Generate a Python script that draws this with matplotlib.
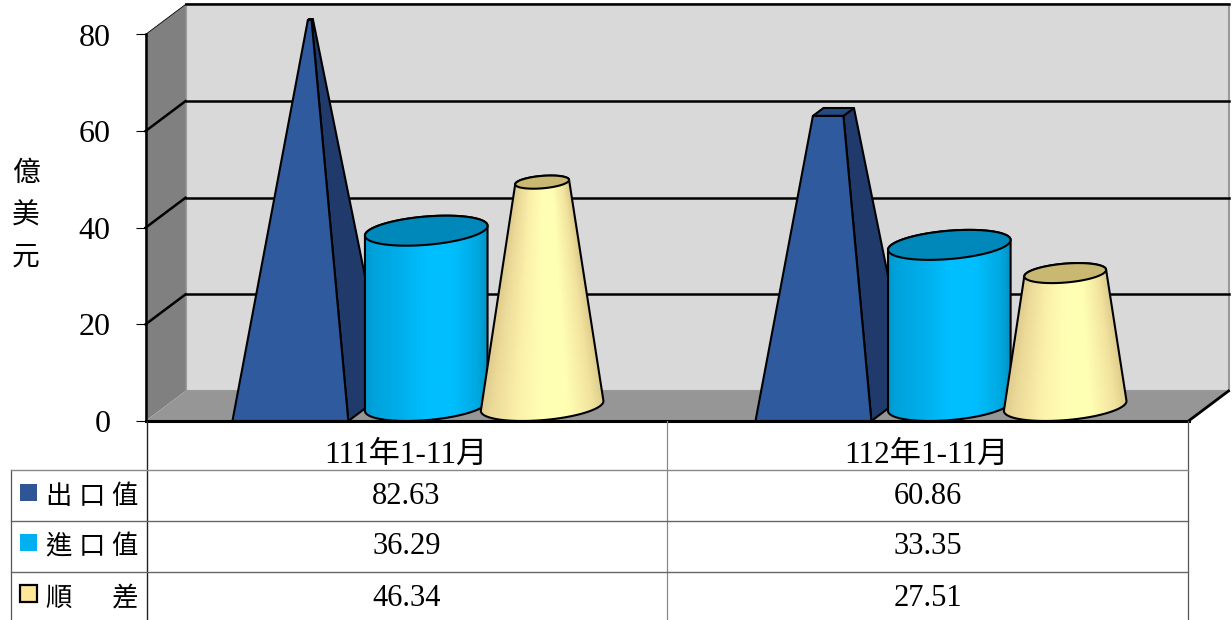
import numpy as np
import matplotlib
matplotlib.use("Agg")
import matplotlib.pyplot as plt
from matplotlib.lines import Line2D
from matplotlib.patches import Polygon, Rectangle
from matplotlib.colors import LinearSegmentedColormap

plt.rcParams['font.family'] = ['Liberation Serif', 'Noto Sans CJK TC']

periods = ['111年1-11月', '112年1-11月']
series_names = ['出 口 值', '進 口 值', '順      差']
export_vals = [82.63, 60.86]
import_vals = [36.29, 33.35]
surplus_vals = [46.34, 27.51]
y_ticks = [0, 20, 40, 60, 80]
y_max = 80

W, H = 1232, 620
fig = plt.figure(figsize=(W / 100, H / 100), dpi=100)
ax = fig.add_axes([145.5 / W, 1 - 421 / H, (1188.5 - 145.5) / W, (421 - 34.5) / H])
ax.set_xlim(0, 2)
ax.set_ylim(0, y_max)

# depth of the fake 3d box, 40px right and 30px up
DX = 40 / 521.5
DY = 30 / (386.5 / y_max)
bar_w = 1 / 4.5
r = bar_w / 2
tip = max(export_vals)     # all the shapes taper to the biggest value
group_x = [0.5, 1.503]


def proj(x, y, d):
    return (x + d * DX, y + d * DY)


def ring(cx, y, scale):
    t = np.linspace(0, 2 * np.pi, 121)
    xs = cx + r * scale * np.cos(t) + 0.5 * DX * (1 + scale * np.sin(t))
    ys = y + 0.5 * DY * (1 + scale * np.sin(t))
    return np.column_stack([xs, ys])


def hull(points):
    pts = sorted(map(tuple, points))

    def half(seq):
        out = []
        for p in seq:
            while len(out) > 1 and ((out[-1][0] - out[-2][0]) * (p[1] - out[-2][1])
                                    - (out[-1][1] - out[-2][1]) * (p[0] - out[-2][0])) <= 0:
                out.pop()
            out.append(p)
        return out[:-1]

    return np.array(half(pts) + half(pts[::-1]))


def shaded(outline, stops, c, v, taper, z):
    # gradient follows the local width of the shape, so a cone is dark at both edges all the way up
    cmap = LinearSegmentedColormap.from_list('shade', stops)
    half_w = r + DX * 0.5
    xc = c + 0.5 * DX
    xs = np.linspace(xc - half_w, xc + half_w, 300)
    ys = np.linspace(0, v + DY, 300)
    gx, gy = np.meshgrid(xs, ys)
    local = half_w * (1 - gy / tip) if taper else half_w
    grad = np.clip((gx - xc) / local * 0.5 + 0.5, 0, 1)
    im = ax.imshow(grad, extent=(xs[0], xs[-1], ys[0], ys[-1]), origin='lower', aspect='auto',
                   cmap=cmap, vmin=0, vmax=1, zorder=z)
    im.set_clip_path(Polygon(outline, closed=True, transform=ax.transData))
    ax.add_patch(Polygon(outline, closed=True, fc='none', ec='black', lw=1.5, zorder=z + 0.1,
                         clip_on=False, joinstyle='round'))


def pyramid(c, v, z):
    v = min(v, y_max)
    s = 1 - v / tip
    dn, up = 0.5 - 0.5 * s, 0.5 + 0.5 * s
    side = [proj(c + r, 0, 0), proj(c + r, 0, 1), proj(c + r * s, v, up), proj(c + r * s, v, dn)]
    top = [proj(c - r * s, v, dn), proj(c + r * s, v, dn), proj(c + r * s, v, up), proj(c - r * s, v, up)]
    front = [proj(c - r, 0, 0), proj(c + r, 0, 0), proj(c + r * s, v, dn), proj(c - r * s, v, dn)]
    for pts, col in [(side, '#1F3A6B'), (top, '#264A85'), (front, '#2F5A9E')]:
        ax.add_patch(Polygon(pts, closed=True, fc=col, ec='black', lw=1.5, zorder=z,
                             clip_on=False, joinstyle='round'))


def round_bar(c, v, z, stops, top_col, taper):
    v = min(v, y_max)
    s = 1 - v / tip if taper else 1
    low = ring(c, 0, 1)
    high = ring(c, v, s)
    outline = hull(np.vstack([low, high]))
    shaded(outline, stops, c, v, taper, z)
    ax.add_patch(Polygon(high, closed=True, fc=top_col, ec='black', lw=1.5, zorder=z + 0.2,
                         clip_on=False))


# walls and floor
ax.add_patch(Polygon([proj(0, 0, 1), proj(2, 0, 1), proj(2, y_max, 1), proj(0, y_max, 1)],
                     fc='#D9D9D9', ec='#9A9A9A', lw=1.5, zorder=1, clip_on=False))
ax.add_patch(Polygon([proj(0, 0, 0), proj(0, 0, 1), proj(0, y_max, 1), proj(0, y_max, 0)],
                     fc='#808080', ec='none', zorder=1.1, clip_on=False))
ax.add_patch(Polygon([proj(0, 0, 0), proj(2, 0, 0), proj(2, 0, 1), proj(0, 0, 1)],
                     fc='#969696', ec='none', zorder=1.2, clip_on=False))

for val in y_ticks[1:]:
    a, b, c2 = proj(0, val, 0), proj(0, val, 1), proj(2, val, 1)
    lw = 0.6 if val == y_max else 1.8
    ax.plot([a[0], b[0]], [a[1], b[1]], color='black', lw=lw, zorder=1.5, clip_on=False)
    ax.plot([b[0], c2[0]], [b[1], c2[1]], color='black', lw=1.8, zorder=1.5, clip_on=False)
a, b = proj(2, 0, 0), proj(2, 0, 1)
ax.plot([a[0], b[0]], [a[1], b[1]], color='black', lw=2, zorder=1.6, clip_on=False)

blue_stops = ['#0082B2', '#00A3DC', '#00AEEA', '#00BFFF', '#00BFFF', '#00A8E0', '#006F98']
cream_stops = ['#CDB981', '#EBD998', '#FBF0AA', '#FFFFB4', '#FFFFB4', '#F2E39E', '#C9B67C']

for i in range(len(periods)):
    center = group_x[i]
    pyramid(center - bar_w, export_vals[i], 3 + i)
    round_bar(center, import_vals[i], 3.3 + i, blue_stops, '#0088BB', False)
    round_bar(center + bar_w, surplus_vals[i], 3.6 + i, cream_stops, '#C9B872', True)

for sp in ['top', 'right']:
    ax.spines[sp].set_visible(False)
ax.spines['left'].set_linewidth(1.8)
ax.spines['bottom'].set_linewidth(2.2)
ax.spines['left'].set_zorder(8)
ax.spines['bottom'].set_zorder(8)
ax.patch.set_visible(False)

ax.set_yticks(y_ticks)
ax.tick_params(axis='y', length=7.2, width=0.8, pad=18, labelsize=23)
ax.set_xticks([0.5, 1.497], periods)
ax.tick_params(axis='x', length=0, pad=14, labelsize=22.5)

fig.text(26 / W, 1 - 174 / H, '億', fontsize=20, ha='center', va='center')
fig.text(26 / W, 1 - 216 / H, '美', fontsize=20, ha='center', va='center')
fig.text(26 / W, 1 - 258 / H, '元', fontsize=20, ha='center', va='center')


# table under the chart, y given in image pixels
def hline(y, x0, x1, col, lw=1.0):
    fig.add_artist(Line2D([x0 / W, x1 / W], [1 - y / H, 1 - y / H], color=col, lw=lw))


def vline(x, y0, y1, col, lw=1.0):
    fig.add_artist(Line2D([x / W, x / W], [1 - y0 / H, 1 - y1 / H], color=col, lw=lw))


vline(146.5, 421, 620, '#222222', 1.0)
vline(667, 421, 620, '#888888', 0.9)
vline(1188, 421, 620, '#555555', 0.9)
vline(11, 470, 620, '#555555', 0.9)
hline(470, 11, 1188, '#888888')
hline(520.5, 11, 1188, '#666666')
hline(571.5, 11, 1188, '#666666')

rows = [export_vals, import_vals, surplus_vals]
row_y = [495, 545, 596]
text_y = [497, 547, 598]
key_cols = ['#2F5597', '#00B0F0', '#FFE699']
key_edge = ['none', 'none', 'black']
for n, name in enumerate(series_names):
    y = row_y[n]
    fig.add_artist(Rectangle((20 / W, 1 - (y + 5.5) / H), 17 / W, 17 / H, fc=key_cols[n],
                             ec=key_edge[n], lw=1.6, transform=fig.transFigure))
    fig.text(46 / W, 1 - text_y[n] / H, name, fontsize=19, ha='left', va='center')
    for i in range(len(periods)):
        xc = (145.5 + 260.75 + 521.5 * i) / W
        fig.text(xc, 1 - text_y[n] / H, f'{rows[n][i]:.2f}', fontsize=22, ha='center', va='center')

ax.set_xlim(0, 2)
ax.set_ylim(0, y_max)
fig.savefig('out.png', dpi=100)
